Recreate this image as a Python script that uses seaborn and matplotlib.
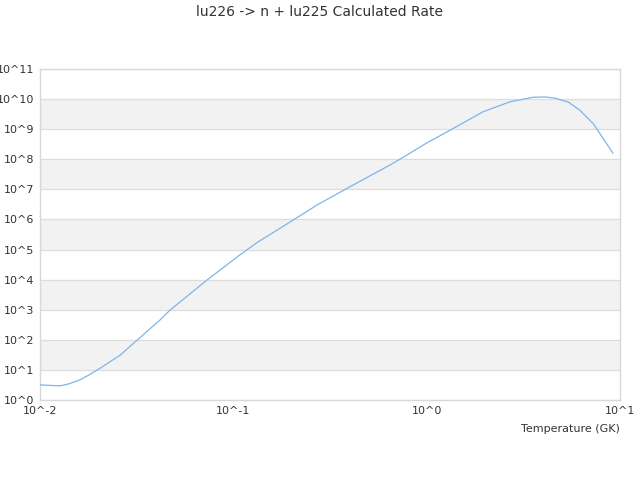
import matplotlib
matplotlib.use("Agg")
import matplotlib.pyplot as plt
import seaborn as sns
import numpy as np
import pandas as pd
from matplotlib.ticker import FixedLocator, FuncFormatter

# Data (temperature in GK, log10 of rate)
temperature = [0.01, 0.0127, 0.014, 0.016, 0.018, 0.0204, 0.023, 0.026, 0.0303, 0.0418, 0.0471, 0.0732,
               0.108, 0.134, 0.181, 0.271, 0.402, 0.647, 0.753,
               1.0, 1.3, 1.96, 2.7, 3.55, 4.1, 4.6, 5.4, 6.2, 7.3, 9.2]
log_rate = [0.50, 0.47, 0.53, 0.66, 0.84, 1.05, 1.27, 1.49, 1.87, 2.66, 2.99, 3.99,
            4.82, 5.25, 5.77, 6.48, 7.09, 7.81, 8.06,
            8.54, 8.94, 9.58, 9.91, 10.06, 10.07, 10.03, 9.90, 9.63, 9.17, 8.20]
rate = [10 ** v for v in log_rate]

x_ticks = [0.01, 0.1, 1, 10]
x_labels = ["10^-2", "10^-1", "10^0", "10^1"]
y_exps = list(range(0, 12))

df = pd.DataFrame({"Temperature": temperature, "Rate": rate})

sns.set_style("white")
plt.rcParams['font.family'] = ['DejaVu Sans']

fig = plt.figure(figsize=(6.4, 4.8), dpi=100)
ax = fig.add_axes([0.0625, 0.1667, 0.90625, 0.6896])

# Alternating bands
for e in range(1, 11, 2):
    ax.axhspan(10 ** e, 10 ** (e + 1), color="#f2f2f2", zorder=0, lw=0)

sns.lineplot(data=df, x="Temperature", y="Rate", ax=ax, color="#7cb5ec", lw=0.9, zorder=3)

ax.set_xscale("log")
ax.set_yscale("log")
ax.set_xlim(0.01, 10)
ax.set_ylim(1, 1e11)

ax.xaxis.set_major_locator(FixedLocator(x_ticks))
ax.xaxis.set_major_formatter(FuncFormatter(lambda v, p: x_labels[x_ticks.index(v)] if v in x_ticks else ""))
ax.xaxis.set_minor_locator(FixedLocator([]))
ax.yaxis.set_major_locator(FixedLocator([10 ** e for e in y_exps]))
ax.yaxis.set_major_formatter(FuncFormatter(lambda v, p: "10^%d" % round(np.log10(v))))
ax.yaxis.set_minor_locator(FixedLocator([]))

ax.grid(axis="y", color="#dddddd", lw=0.9, zorder=1)
ax.set_axisbelow(True)
for s in ax.spines.values():
    s.set_color("#d8d8d8")
    s.set_linewidth(1.0)
ax.tick_params(axis="both", length=0, labelsize=8, colors="#333333", pad=4)

ax.set_xlabel("Temperature (GK)", loc="right", fontsize=8, color="#333333", labelpad=6)
ax.set_ylabel("")
fig.text(0.5, 0.975, "lu226 -> n + lu225 Calculated Rate", ha="center", va="center",
         fontsize=10, color="#333333")

fig.savefig("out.png", dpi=100)
